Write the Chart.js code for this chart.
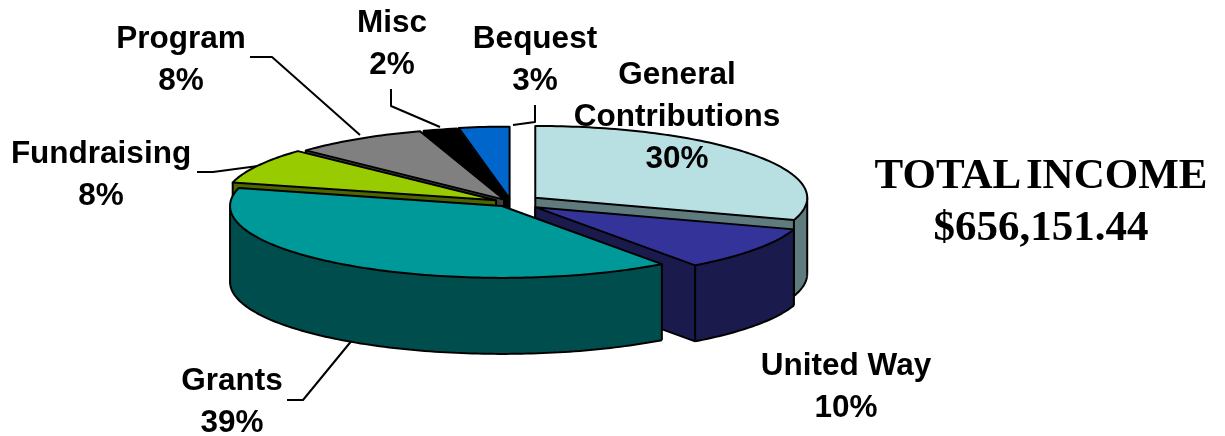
<!DOCTYPE html>
<html>
<head>
<meta charset="utf-8">
<title>Total income</title>
<style>
  html, body { margin: 0; padding: 0; background: #fff; }
  canvas { display: block; }
</style>
<script src="https://cdn.jsdelivr.net/npm/chart.js@4/dist/chart.umd.min.js"></script>
</head>
<body>
<canvas id="chart" width="1225" height="436"></canvas>
<script>
const categories = ["General Contributions", "United Way", "Grants", "Fundraising", "Program", "Misc", "Bequest"];
const percents = [30, 10, 39, 8, 8, 2, 3];
const topColors = ["#B8E0E3", "#333399", "#009999", "#99CC00", "#808080", "#000000", "#0066CC"];
const wallColors = ["#5F7B7D", "#1A1A4D", "#004D4D", "#4D6600", "#404040", "#000000", "#003366"];
const explode = [30, 30, 16, 17, 13, 13, 15];
const drawOrder = [6, 5, 4, 0, 3, 1, 2];
const totalLines = ["TOTAL INCOME", "$656,151.44"];

// slice centre is tipped over: x stretch and y squash of the library's circle
const stretchX = 1.343;
const squashY = 0.355;
const depth = 76;

// label anchors, one per category, same order
const labelAt = [[677, 75], [846, 366], [232, 381], [101, 154], [181, 39], [392, 23], [535, 39]];
const leaders = [
  [[250, 57], [272, 57], [360, 135]],
  [[391, 89], [391, 106], [440, 127]],
  [[535, 105], [535, 122], [513, 125]],
  [[197, 172], [213, 172], [258, 166]],
  [[287, 400], [303, 400], [353, 339]],
];

function slicePoints(arc, i) {
  const p = arc.getProps(["x", "y", "startAngle", "endAngle", "outerRadius"], true);
  const mid = (p.startAngle + p.endAngle) / 2;
  const cx = p.x + explode[i] * Math.cos(mid);
  const cy = p.y + explode[i] * (squashY / stretchX) * Math.sin(mid);
  const pts = [[cx, cy]];
  const steps = Math.max(2, Math.ceil((p.endAngle - p.startAngle) / 0.02));
  for (let s = 0; s <= steps; s++) {
    const a = p.startAngle + ((p.endAngle - p.startAngle) * s) / steps;
    pts.push([cx + p.outerRadius * stretchX * Math.cos(a), cy + p.outerRadius * squashY * Math.sin(a)]);
  }
  return pts;
}

function drawSlice(ctx, pts, top, wall) {
  const n = pts.length;
  const seen = [];
  for (let i = 0; i < n; i++) {
    const q = pts[(i + 1) % n];
    seen.push(q[0] - pts[i][0] < -0.01);
  }
  // one filled band per run of visible edges, so no seams show in the wall
  ctx.fillStyle = wall;
  let first = seen.findIndex((v, i) => v && !seen[(i - 1 + n) % n]);
  if (first < 0) first = 0;
  let run = [];
  const flush = () => {
    if (!run.length) return;
    ctx.beginPath();
    run.forEach((p, k) => (k ? ctx.lineTo(p[0], p[1]) : ctx.moveTo(p[0], p[1])));
    run.slice().reverse().forEach((p) => ctx.lineTo(p[0], p[1] + depth));
    ctx.closePath();
    ctx.fill();
    run = [];
  };
  for (let k = 0; k < n; k++) {
    const i = (first + k) % n;
    if (seen[i]) {
      if (!run.length) run.push(pts[i]);
      run.push(pts[(i + 1) % n]);
    } else {
      flush();
    }
  }
  flush();

  ctx.strokeStyle = "#000";
  ctx.lineWidth = 2;
  ctx.beginPath();
  for (let i = 0; i < n; i++) {
    const p = pts[i], q = pts[(i + 1) % n];
    if (seen[i]) {
      ctx.moveTo(p[0], p[1] + depth);
      ctx.lineTo(q[0], q[1] + depth);
    }
    const before = seen[(i - 1 + n) % n];
    const corner = i === 0 || i === 1 || i === n - 1;
    if (before !== seen[i] || (corner && (before || seen[i]))) {
      ctx.moveTo(p[0], p[1]);
      ctx.lineTo(p[0], p[1] + depth);
    }
  }
  ctx.stroke();
  ctx.fillStyle = top;
  ctx.beginPath();
  pts.forEach((p, i) => (i ? ctx.lineTo(p[0], p[1]) : ctx.moveTo(p[0], p[1])));
  ctx.closePath();
  ctx.fill();
  ctx.stroke();
}

function drawLabels(ctx) {
  ctx.fillStyle = "#000";
  ctx.textAlign = "center";
  ctx.textBaseline = "middle";
  ctx.font = "bold 31.5px 'Liberation Sans', Arial, sans-serif";
  categories.forEach((name, i) => {
    const parts = name === "General Contributions" ? name.split(" ") : [name];
    parts.concat(percents[i] + "%").forEach((line, k) => {
      ctx.fillText(line, labelAt[i][0], labelAt[i][1] + k * 42);
    });
  });
  ctx.font = "bold 43px 'Liberation Serif', 'Times New Roman', serif";
  ctx.wordSpacing = "-6px";
  totalLines.forEach((line, k) => ctx.fillText(line, 1041, 177 + k * 52));
  ctx.wordSpacing = "0px";
}

const fakePie3d = {
  id: "fakePie3d",
  beforeDatasetsDraw(chart) {
    const ctx = chart.ctx;
    const arcs = chart.getDatasetMeta(0).data;
    ctx.save();
    ctx.lineJoin = "round";
    ctx.strokeStyle = "#000";
    ctx.lineWidth = 2;
    ctx.beginPath();
    leaders.forEach((line) => {
      line.forEach((p, i) => (i ? ctx.lineTo(p[0], p[1]) : ctx.moveTo(p[0], p[1])));
    });
    ctx.stroke();
    drawOrder.forEach((i) => drawSlice(ctx, slicePoints(arcs[i], i), topColors[i], wallColors[i]));
    drawLabels(ctx);
    ctx.restore();
    return false; // flat arcs are not wanted
  },
};

new Chart(document.getElementById("chart"), {
  type: "pie",
  data: {
    labels: categories,
    datasets: [{ data: percents, backgroundColor: topColors, borderWidth: 0 }],
  },
  options: {
    responsive: false,
    animation: false,
    layout: { padding: { right: 203, bottom: 31 } },
    plugins: { legend: { display: false }, tooltip: { enabled: false } },
  },
  plugins: [fakePie3d],
});
</script>
</body>
</html>
